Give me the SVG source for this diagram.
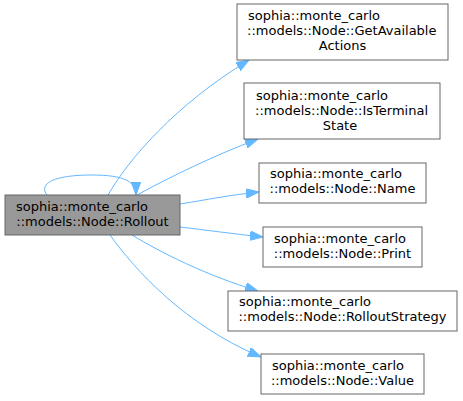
<svg xmlns="http://www.w3.org/2000/svg" width="463" height="401" viewBox="0 0 463 401">
<style>
.n rect{fill:#fff;stroke:#666;stroke-width:1}
.n.g rect{fill:#999}
text{font-family:"DejaVu Sans","Liberation Sans",sans-serif;font-size:13px;fill:#000}
.m{text-anchor:middle}
.e path{fill:none;stroke:#63b8ff;stroke-width:1;marker-end:url(#a)}
</style>
<defs>
<marker id="a" markerUnits="userSpaceOnUse" markerWidth="14" markerHeight="10" refX="13" refY="4.75" orient="auto">
<path d="M0,0 L13,4.75 L0,9.5 z" fill="#63b8ff" stroke="#63b8ff"/>
</marker>
</defs>
<rect width="463" height="401" fill="#fff"/>
<g class="e">
<path d="M47,195 C38,183 55,175 92,175 C125,175 136,182 136,195"/>
<path d="M108,195 C128,160 175,105 249,60"/>
<path d="M137,195 C170,177 215,155 258,139"/>
<path d="M180,204 C205,200 230,195 259,192"/>
<path d="M180,227 C205,230 235,234 263,237"/>
<path d="M132,235 C160,252 205,275 258,291"/>
<path d="M110,235 C135,270 185,325 261,357"/>
</g>
<g id="rollout" class="n g">
<rect x="5" y="195" width="175" height="40"/>
<text x="16" y="211">sophia::monte_carlo</text>
<text class="m" x="92.5" y="226">::models::Node::Rollout</text>
</g>
<g id="getavailable" class="n">
<rect x="237" y="4" width="211" height="56"/>
<text x="248" y="20">sophia::monte_carlo</text>
<text x="247" y="35">::models::Node::GetAvailable</text>
<text class="m" x="342.5" y="50">Actions</text>
</g>
<g id="isterminal" class="n">
<rect x="244" y="83" width="196" height="56"/>
<text x="256" y="100">sophia::monte_carlo</text>
<text x="255" y="115">::models::Node::IsTerminal</text>
<text class="m" x="340" y="130">State</text>
</g>
<g id="name" class="n">
<rect x="259" y="163" width="167" height="40"/>
<text x="270" y="178">sophia::monte_carlo</text>
<text class="m" x="342.5" y="193">::models::Node::Name</text>
</g>
<g id="print" class="n">
<rect x="263" y="227" width="159" height="40"/>
<text x="274" y="243">sophia::monte_carlo</text>
<text class="m" x="342.5" y="258">::models::Node::Print</text>
</g>
<g id="rolloutstrategy" class="n">
<rect x="228" y="291" width="229" height="40"/>
<text x="239" y="306">sophia::monte_carlo</text>
<text class="m" x="342.5" y="321">::models::Node::RolloutStrategy</text>
</g>
<g id="value" class="n">
<rect x="261" y="354" width="163" height="40"/>
<text x="272" y="370">sophia::monte_carlo</text>
<text class="m" x="342.5" y="385">::models::Node::Value</text>
</g>
</svg>
